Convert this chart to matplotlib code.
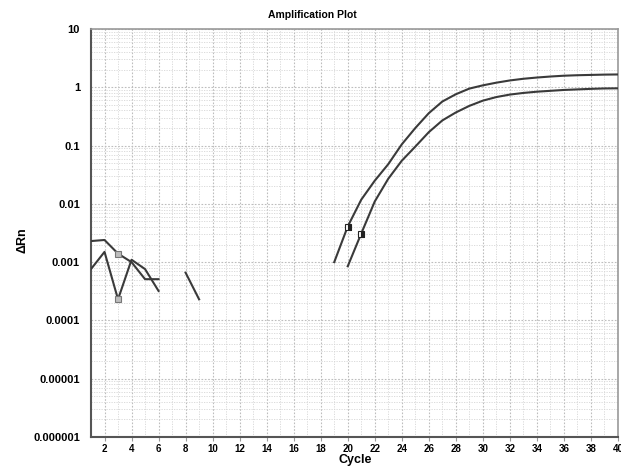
import numpy as np
import matplotlib
matplotlib.use("Agg")
import matplotlib.pyplot as plt
from matplotlib.ticker import FixedLocator, FuncFormatter, LogLocator, NullFormatter

nan = np.nan

cycles = np.arange(1, 41)

# upper well (dRn per cycle, gaps where nothing is drawn)
drn_a = [0.0023, 0.0024, 0.0014, 0.0010, 0.00051, 0.00051, nan, nan, nan, nan,
         nan, nan, nan, nan, nan, nan, nan, nan, 0.0010, 0.0041,
         0.0118, 0.025, 0.048, 0.105, 0.20, 0.36, 0.57, 0.76, 0.95, 1.08,
         1.20, 1.31, 1.40, 1.47, 1.53, 1.58, 1.61, 1.63, 1.65, 1.66]

# lower well
drn_b = [0.00076, 0.0015, 0.00023, 0.0011, 0.00076, 0.00032, nan, 0.00066, 0.00023, nan,
         nan, nan, nan, nan, nan, nan, nan, nan, nan, 0.00085,
         0.0031, 0.011, 0.027, 0.055, 0.096, 0.17, 0.27, 0.37, 0.48, 0.59,
         0.68, 0.75, 0.80, 0.84, 0.87, 0.90, 0.92, 0.94, 0.955, 0.96]

# baseline-start markers (grey) and threshold markers (black/white)
base_cycles = [3, 3]
base_vals = [0.0014, 0.00023]
ct_cycles = [20, 21]
ct_vals = [0.0040, 0.0031]

y_ticks = [1e-6, 1e-5, 1e-4, 1e-3, 1e-2, 1e-1, 1, 10]
y_labels = ['0.000001', '0.00001', '0.0001', '0.001', '0.01', '0.1', '1', '10']
x_ticks = list(range(2, 41, 2))

plt.rcParams['font.family'] = ['Liberation Sans', 'DejaVu Sans']

fig = plt.figure(figsize=(6.21, 4.72), dpi=100)
ax = fig.add_axes([91 / 621, 1 - 437 / 472, 527 / 621, 408 / 472])

line_col = '#3a3a3a'
ax.plot(cycles, drn_a, color=line_col, lw=1.5, zorder=3)
ax.plot(cycles, drn_b, color=line_col, lw=1.5, zorder=3)

ax.plot(base_cycles, base_vals, ls='none', marker='s', ms=5,
        mfc='#bdbdbd', mec='#777777', mew=0.8, zorder=4)
ax.plot(ct_cycles, ct_vals, ls='none', marker='s', ms=5, fillstyle='right',
        mfc='#222222', mfcalt='white', mec='#222222', mew=0.8, zorder=4)

ax.set_yscale('log')
ax.set_ylim(1e-6, 10)
ax.set_xlim(1, 40)

ax.yaxis.set_major_locator(FixedLocator(y_ticks))
ax.yaxis.set_major_formatter(FuncFormatter(lambda v, p: y_labels[y_ticks.index(v)] if v in y_ticks else ''))
ax.yaxis.set_minor_locator(LogLocator(base=10, subs=np.arange(2, 10)))
ax.yaxis.set_minor_formatter(NullFormatter())
ax.xaxis.set_major_locator(FixedLocator(x_ticks))
ax.xaxis.set_minor_locator(FixedLocator(range(1, 41)))

ax.grid(which='major', color='#bdbdbd', ls=(0, (1.5, 1.5)), lw=0.8)
ax.grid(which='minor', color='#d6d6d6', ls=(0, (1.5, 1.5)), lw=0.6)

ax.tick_params(axis='y', which='major', labelsize=8, length=0, pad=8)
ax.tick_params(axis='x', which='major', labelsize=7, length=3, color='#999999', pad=2)
ax.tick_params(which='minor', length=0)
for lab in ax.get_xticklabels() + ax.get_yticklabels():
    lab.set_fontweight('bold')

for side in ['left', 'bottom']:
    ax.spines[side].set_color('#555555')
    ax.spines[side].set_linewidth(1.5)
for side in ['top', 'right']:
    ax.spines[side].set_color('#999999')
    ax.spines[side].set_linewidth(1.2)

fig.text(312 / 621, 1 - 15 / 472, 'Amplification Plot', ha='center', va='center',
         fontsize=7.5, fontweight='bold')
fig.text(355 / 621, 1 - 460 / 472, 'Cycle', ha='center', va='center',
         fontsize=9, fontweight='bold')
fig.text(22 / 621, 1 - 240 / 472, 'ΔRn', ha='center', va='center', rotation=90,
         fontsize=9, fontweight='bold')

fig.savefig('out.png', dpi=100)
